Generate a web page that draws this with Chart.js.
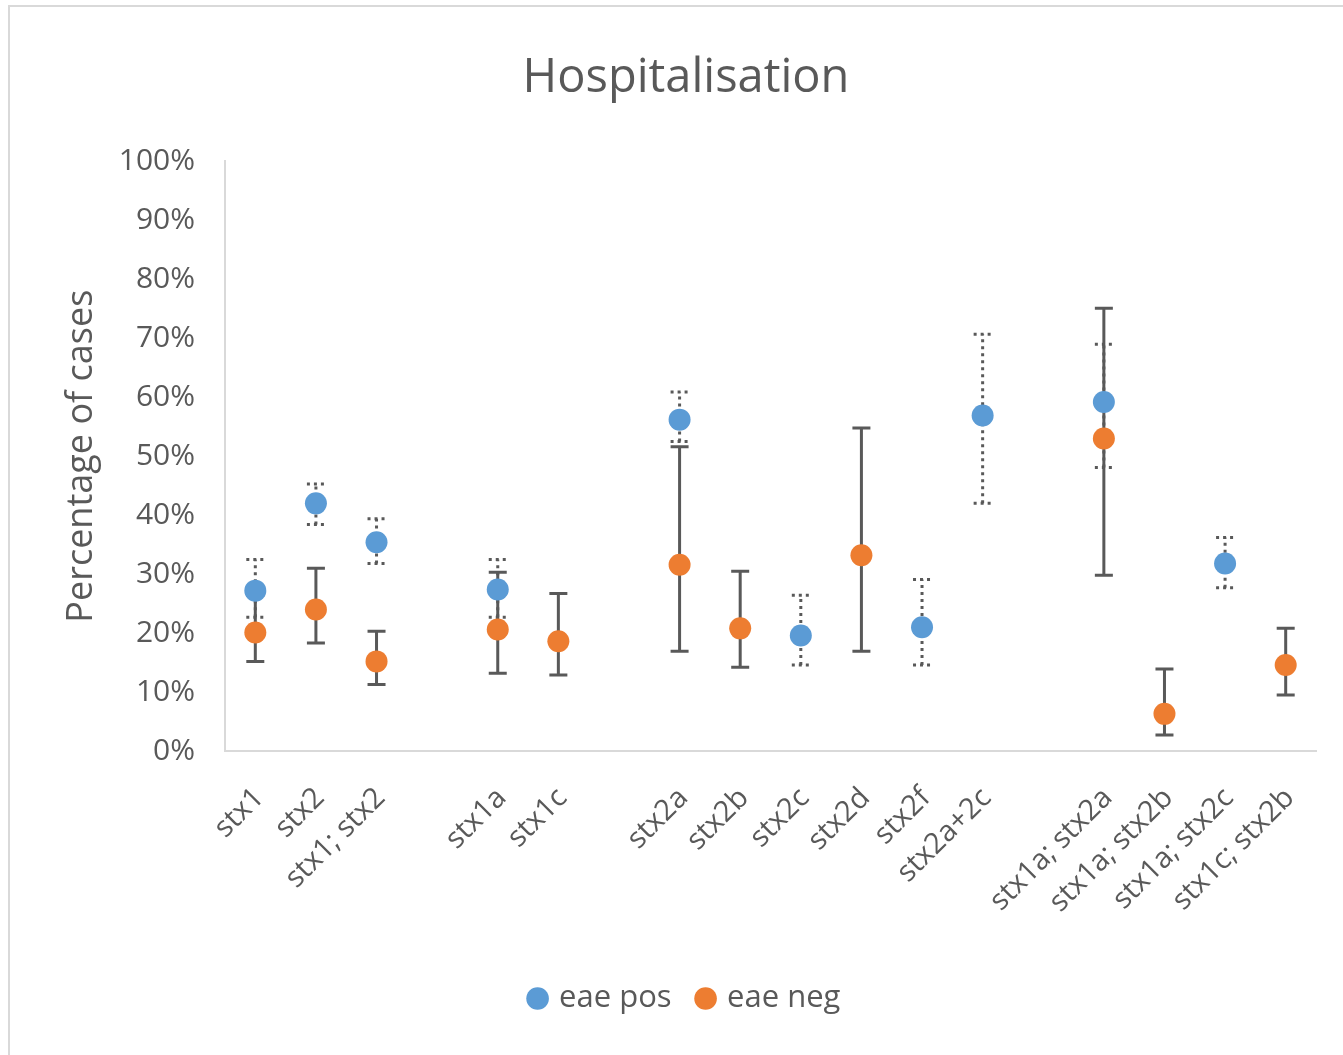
<!DOCTYPE html>
<html lang="en">

<head>
    <meta charset="UTF-8">
    <title>Hospitalisation</title>
    <script src="https://cdn.jsdelivr.net/npm/chart.js"></script>
    <style>
        body {
            margin: 0;
            background: #ffffff;
            overflow: hidden;
        }

        .moldura {
            position: absolute;
            left: 8px;
            top: 5px;
            width: 1400px;
            height: 1100px;
            border: 2px solid #d9d9d9;
        }

        .grafico {
            position: absolute;
            left: 0;
            top: 0;
            width: 1343px;
            height: 1055px;
        }
    </style>
</head>

<body>
    <div class="moldura"></div>
    <div class="grafico">
        <canvas id="myChart"></canvas>
    </div>
</body>

<script>
    const categorias = ['stx1', 'stx2', 'stx1; stx2', '', 'stx1a', 'stx1c', '', 'stx2a', 'stx2b', 'stx2c',
        'stx2d', 'stx2f', 'stx2a+2c', '', 'stx1a; stx2a', 'stx1a; stx2b', 'stx1a; stx2c', 'stx1c; stx2b'];

    const eaePos = [27.2, 42.0, 35.4, null, 27.4, null, null, 56.2, null, 19.6, null, 21.0, 56.9, null, 59.2, null, 31.8, null];
    const eaePosLow = [22.7, 38.4, 31.8, null, 22.7, null, null, 52.5, null, 14.6, null, 14.6, 42.0, null, 48.1, null, 27.7, null];
    const eaePosHigh = [32.5, 45.3, 39.4, null, 32.5, null, null, 60.9, null, 26.4, null, 29.1, 70.7, null, 69.0, null, 36.2, null];

    const eaeNeg = [20.1, 24.0, 15.2, null, 20.6, 18.6, null, 31.6, 20.8, null, 33.2, null, null, null, 53.0, 6.3, null, 14.6];
    const eaeNegLow = [15.2, 18.3, 11.3, null, 13.2, 12.9, null, 16.9, 14.2, null, 16.9, null, null, null, 29.8, 2.7, null, 9.5];
    const eaeNegHigh = [26.4, 31.0, 20.3, null, 30.3, 26.7, null, 51.6, 30.5, null, 54.8, null, null, null, 75.1, 13.9, null, 20.8];

    const ticksY = [0, 10, 20, 30, 40, 50, 60, 70, 80, 90, 100];

    const corTexto = '#595959';
    const fonte = "'Open Sans', sans-serif";

    // barras de erro desenhadas antes dos pontos, usando as escalas do grafico
    const barrasErro = {
        id: 'barrasErro',
        beforeDatasetsDraw(chart) {
            const ctx = chart.ctx;
            const x = chart.scales.x;
            const y = chart.scales.y;

            chart.data.datasets.forEach(ds => {
                ctx.save();
                ctx.strokeStyle = '#595959';
                ctx.lineWidth = 3;
                ctx.setLineDash(ds.tracejado ? [3, 4] : []);

                for (var i = 0; i < ds.data.length; i++) {
                    if (ds.data[i] == null) continue;
                    const px = x.getPixelForValue(i);
                    const yBaixo = y.getPixelForValue(ds.erroBaixo[i]);
                    const yAlto = y.getPixelForValue(ds.erroAlto[i]);

                    ctx.beginPath();
                    ctx.moveTo(px, yBaixo);
                    ctx.lineTo(px, yAlto);
                    ctx.moveTo(px - 9, yBaixo);
                    ctx.lineTo(px + 9, yBaixo);
                    ctx.moveTo(px - 9, yAlto);
                    ctx.lineTo(px + 9, yAlto);
                    ctx.stroke();
                }
                ctx.restore();
            });
        }
    };

    function criarGrafico() {
        const ctx = document.getElementById('myChart');

        new Chart(ctx, {
            type: 'line',
            data: {
                labels: categorias,
                datasets: [{
                    label: 'eae pos',
                    data: eaePos,
                    erroBaixo: eaePosLow,
                    erroAlto: eaePosHigh,
                    tracejado: true,
                    showLine: false,
                    pointRadius: 11,
                    pointHoverRadius: 11,
                    pointBorderWidth: 0,
                    backgroundColor: '#5B9BD5',
                    borderColor: '#5B9BD5'
                }, {
                    label: 'eae neg',
                    data: eaeNeg,
                    erroBaixo: eaeNegLow,
                    erroAlto: eaeNegHigh,
                    tracejado: false,
                    showLine: false,
                    pointRadius: 11,
                    pointHoverRadius: 11,
                    pointBorderWidth: 0,
                    backgroundColor: '#ED7D31',
                    borderColor: '#ED7D31'
                }]
            },
            options: {
                responsive: true,
                maintainAspectRatio: false,
                animation: false,
                layout: {
                    padding: { left: 56, right: 27, top: 0, bottom: 31 }
                },
                plugins: {
                    title: {
                        display: true,
                        text: 'Hospitalisation',
                        color: corTexto,
                        font: { family: fonte, size: 47, weight: 'normal' },
                        padding: { top: 50, bottom: 55 }
                    },
                    legend: {
                        position: 'bottom',
                        labels: {
                            usePointStyle: true,
                            pointStyle: 'circle',
                            boxWidth: 12,
                            boxHeight: 16,
                            padding: 28,
                            color: corTexto,
                            font: { family: fonte, size: 31 }
                        }
                    },
                    tooltip: { enabled: false }
                },
                scales: {
                    x: {
                        offset: true,
                        grid: { display: true, color: 'transparent', drawTicks: false },
                        border: { display: true, color: '#d9d9d9', width: 2 },
                        ticks: {
                            color: corTexto,
                            font: { family: fonte, size: 29 },
                            maxRotation: 45,
                            minRotation: 45,
                            autoSkip: false,
                            padding: 30,
                            labelOffset: 4
                        },
                        afterFit: scale => { scale.height = 204; }
                    },
                    y: {
                        min: 0,
                        max: 100,
                        grid: { display: true, color: 'transparent', drawTicks: false },
                        border: { display: true, color: '#d9d9d9', width: 2 },
                        afterBuildTicks: scale => {
                            scale.ticks = ticksY.map(v => ({ value: v }));
                        },
                        ticks: {
                            color: corTexto,
                            font: { family: fonte, size: 30 },
                            padding: 30,
                            callback: v => v + '%'
                        },
                        title: {
                            display: true,
                            text: 'Percentage of cases',
                            color: corTexto,
                            font: { family: fonte, size: 36 },
                            padding: { top: 4, bottom: 0 }
                        },
                        afterFit: scale => { scale.width = 169; }
                    }
                }
            },
            plugins: [barrasErro]
        });
    }

    criarGrafico();
</script>

</html>
